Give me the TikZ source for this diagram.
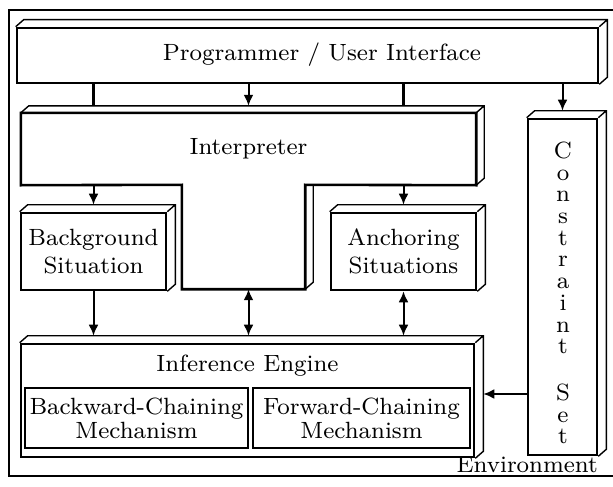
\documentclass[tikz,border=0pt]{standalone}
\usepackage{fontspec}
\setmainfont{lmroman8-regular.otf}
\usetikzlibrary{arrows.meta}

\begin{document}
\begin{tikzpicture}[x=1pt,y=-1pt,
          every node/.style={font=\fontsize{23.5}{28}\selectfont},
          box/.style={draw,line width=2.6pt,fill=white,inner sep=0pt,align=center},
          shell/.style={inner sep=0pt,align=center},
          front/.style={line width=2.6pt,line join=miter},
          depth/.style={line width=1.4pt},
          frame/.style={line width=2pt},
          link/.style={line width=2pt,-{Latex[length=11pt,width=10pt]}},
          both/.style={line width=2pt,{Latex[length=11pt,width=10pt]}-{Latex[length=11pt,width=10pt]}}
        ]
        \useasboundingbox (0,0) rectangle (613,487);

        %environment frame
        \draw[frame] (613,10) -- (9,10) -- (9,476) -- (613,476);

        %boxes
        \node[box,minimum width=581pt,minimum height=55pt] (prog) at (307.5,55.5) {};
        \node[shell] (proglbl) at (322,55) {Programmer / User Interface};
        \node[shell,minimum width=455pt,minimum height=72pt] (interp) at (248.5,149) {Interpreter};
        \node[shell,minimum width=123pt,minimum height=104pt] (stem) at (243.5,237) {};
        \node[box,minimum width=145pt,minimum height=77pt] (bg) at (93.5,251.5) {Background\\Situation};
        \node[box,minimum width=145pt,minimum height=77pt] (anch) at (403.5,251.5) {Anchoring\\Situations};
        \node[box,minimum width=69pt,minimum height=336pt] (cons) at (562.5,287) {};
        \node[shell,font=\fontsize{23.5}{21.7}\selectfont] (conslbl) at (563,293)
          {C\\o\\n\\s\\t\\r\\a\\i\\n\\t\\[25pt]S\\e\\t};
        \node[box,minimum width=453pt,minimum height=113pt] (inf) at (247.5,400.5) {};
        \node[shell] (inflbl) at (247.5,366) {Inference Engine};
        \node[box,font=\fontsize{23.5}{24}\selectfont,minimum width=223pt,minimum height=60pt] (bw) at (136.5,418) {Backward-Chaining\\Mechanism};
        \node[box,font=\fontsize{23.5}{24}\selectfont,minimum width=217pt,minimum height=60pt] (fw) at (361.5,418) {Forward-Chaining\\Mechanism};
        \node[shell,anchor=base east] (envlbl) at (598,472) {Environment};

        %interpreter outline
        \draw[front] (interp.north west) -- (interp.north east) -- (interp.south east)
          -- (stem.north east) -- (stem.south east) -- (stem.south west)
          -- (stem.north west) -- (interp.south west) -- cycle;
        \draw[depth] (interp.north west) -- ++(8,-7) -| ([shift={(8,-7)}]interp.south east)
          -- (interp.south east) (interp.north east) -- ++(8,-7);
        \draw[depth] ([xshift=8pt]stem.north east) -- ([shift={(8,-7)}]stem.south east) -- (stem.south east);

        %depth of the solid boxes
        \foreach \n in {prog,bg,anch,cons,inf}
          \draw[depth] (\n.north west) -- ++(8,-7) -| ([shift={(8,-7)}]\n.south east)
            -- (\n.south east) (\n.north east) -- ++(8,-7);

        \coordinate (interptop) at ([yshift=7pt]interp.north);
        \coordinate (inftop) at ([yshift=7pt]inf.north);
        \coordinate (infside) at ([xshift=8pt,yshift=6.5pt]inf.east);

        %connectors
        \draw[link] (interp.north |- prog.south) -- (interptop);
        \draw[front] (bg.north |- prog.south) -- (bg.north |- interptop);
        \draw[front] (anch.north |- prog.south) -- (anch.north |- interptop);
        \draw[link] (cons.north |- prog.south) -- ([yshift=7pt]cons.north);
        \draw[link] (bg.north |- interp.south) -- ([yshift=7pt]bg.north);
        \draw[link] (anch.north |- interp.south) -- ([yshift=7pt]anch.north);
        \draw[link] (bg.south) -- (bg.south |- inftop);
        \draw[both] (interp.north |- stem.south) -- (interp.north |- inftop);
        \draw[both] (anch.south) -- (anch.south |- inftop);
        \draw[link] (cons.west |- infside) -- (infside);
\end{tikzpicture}
\end{document}
